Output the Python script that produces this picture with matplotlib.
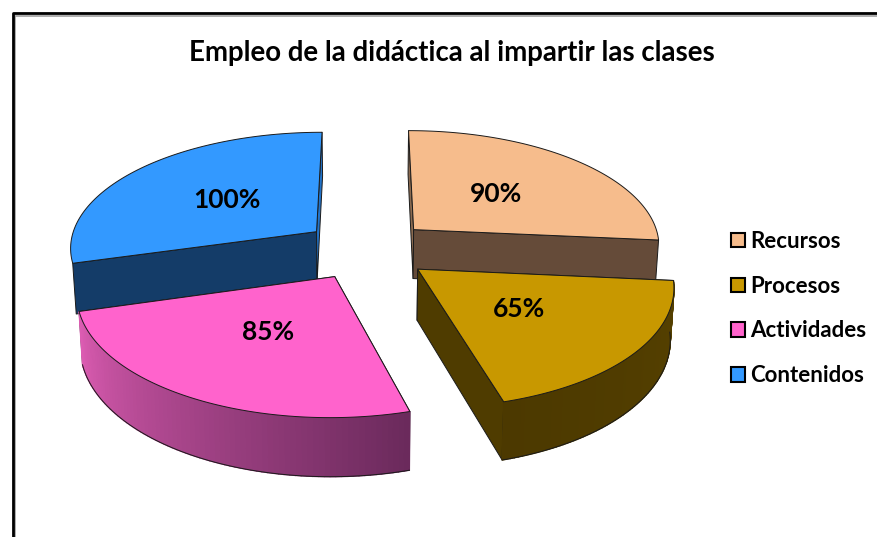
import numpy as np
import matplotlib
matplotlib.use('Agg')
from matplotlib import pyplot as plt
from matplotlib.patches import Patch, Polygon
from matplotlib.colors import to_rgb

categorias = ['Recursos', 'Procesos', 'Actividades', 'Contenidos']
valores = [90, 65, 85, 100]
etiquetas = ['90%', '65%', '85%', '100%']
titulo = 'Empleo de la didáctica al impartir las clases'

colores = ['#f6bc8c', '#c89800', '#ff63cc', '#3399ff']
# pared de corte: inicio y fin de cada sector (sentido horario)
corte_ini = ['#8a6a50', '#4f3c00', '#6b2a5c', '#143c68']
corte_fin = ['#654b39', '#4f3c00', '#6b2a5c', '#2273c8']
# pared exterior: color a cada lado del arco
pared_a = ['#654b39', '#564100', '#6b2a5c', '#143c68']
pared_b = ['#654b39', '#4c3900', '#dc5cb2', '#143c68']
con_pared = [False, True, True, False]

plt.rcParams['font.family'] = ['Lato', 'DejaVu Sans']

# Proyeccion en perspectiva del disco
cx, cy = 367, 249.5
R, T = 248, 116
k = 0.125
alto = 50
explode = 0.26


def proy(x, y):
    s = 1/(1 + k*y)
    return cx + R*x*s, cy - T*y*s


def abajo(px, py, y):
    # baja un punto de la cara superior hasta la base
    return px + (cx - px)*0.012, py + alto/(1 + k*y)


fig = plt.figure(figsize=(8.78, 5.37), dpi=100)
ax = fig.add_axes([0, 0, 1, 1])
ax.set_xlim(0, 878)
ax.set_ylim(537, 0)
ax.axis('off')

# Marco del grafico
ax.plot([15.5, 15.5, 878], [537, 15.5, 15.5], color='#a0a0a0', lw=1.2, zorder=1)
ax.plot([13, 13, 878], [537, 13, 13], color='black', lw=2, zorder=1)

total = sum(valores)
angulos = np.cumsum([0] + valores)/total*360
orden = [0, 3, 1, 2]  # primero los de atras
z = 2

for i in orden:
    t1 = np.radians(90 - angulos[i])
    t2 = np.radians(90 - angulos[i + 1])
    med = (t1 + t2)/2
    ex = explode*np.cos(med)
    ey = explode*np.sin(med)
    ax0, ay0 = proy(ex, ey)

    tt = np.linspace(t1, t2, 80)
    ys = ey + np.sin(tt)
    px, py = proy(ex + np.cos(tt), ys)
    bx, by = abajo(px, py, ys)
    abx, aby = abajo(ax0, ay0, ey)

    borde = dict(edgecolor='#1a1a1a', lw=0.7, joinstyle='round')

    # paredes de corte
    for j, col in ((0, corte_ini[i]), (-1, corte_fin[i])):
        pts = [(ax0, ay0), (px[j], py[j]), (bx[j], by[j]), (abx, aby)]
        ax.add_patch(Polygon(pts, facecolor=col, zorder=z, **borde))
        z += 1

    # pared exterior, solo la parte de delante
    if con_pared[i]:
        ca = np.array(to_rgb(pared_a[i]))
        cb = np.array(to_rgb(pared_b[i]))
        delante = np.sin(tt) <= 0.05
        for n in range(len(tt) - 1):
            if not (delante[n] or delante[n + 1]):
                continue
            f = n/(len(tt) - 2)
            c = ca*(1 - f) + cb*f
            pts = [(px[n], py[n]), (px[n + 1], py[n + 1]),
                   (bx[n + 1], by[n + 1]), (bx[n], by[n])]
            ax.add_patch(Polygon(pts, facecolor=c, edgecolor=c, lw=1.0, zorder=z))
        z += 1
        ax.plot(bx[delante], by[delante], color='#1a1a1a', lw=0.7, zorder=z)
        z += 1

    # cara superior
    pts = [(ax0, ay0)] + list(zip(px, py))
    ax.add_patch(Polygon(pts, facecolor=colores[i], zorder=z, **borde))
    z += 1

    # etiqueta del valor
    tx, ty = proy(ex + 0.49*np.cos(med), ey + 0.49*np.sin(med))
    ax.text(tx, ty, etiquetas[i], fontsize=19, fontweight='bold',
            color='black', ha='center', va='center', zorder=50)

ax.text(452, 53, titulo, fontsize=19.9, fontweight='bold', color='black',
        ha='center', va='center', zorder=50)

handles = [Patch(facecolor=c, edgecolor='black', lw=1.5) for c in colores]
ax.legend(handles, categorias, loc='center left', bbox_to_anchor=(731/878, 1 - 308.5/537),
          frameon=False, handlelength=0.63, handleheight=0.63,
          handletextpad=0.23, labelspacing=1.07, borderpad=0, borderaxespad=0,
          prop={'weight': 'bold', 'size': 16})

plt.savefig('out.png', dpi=100)
